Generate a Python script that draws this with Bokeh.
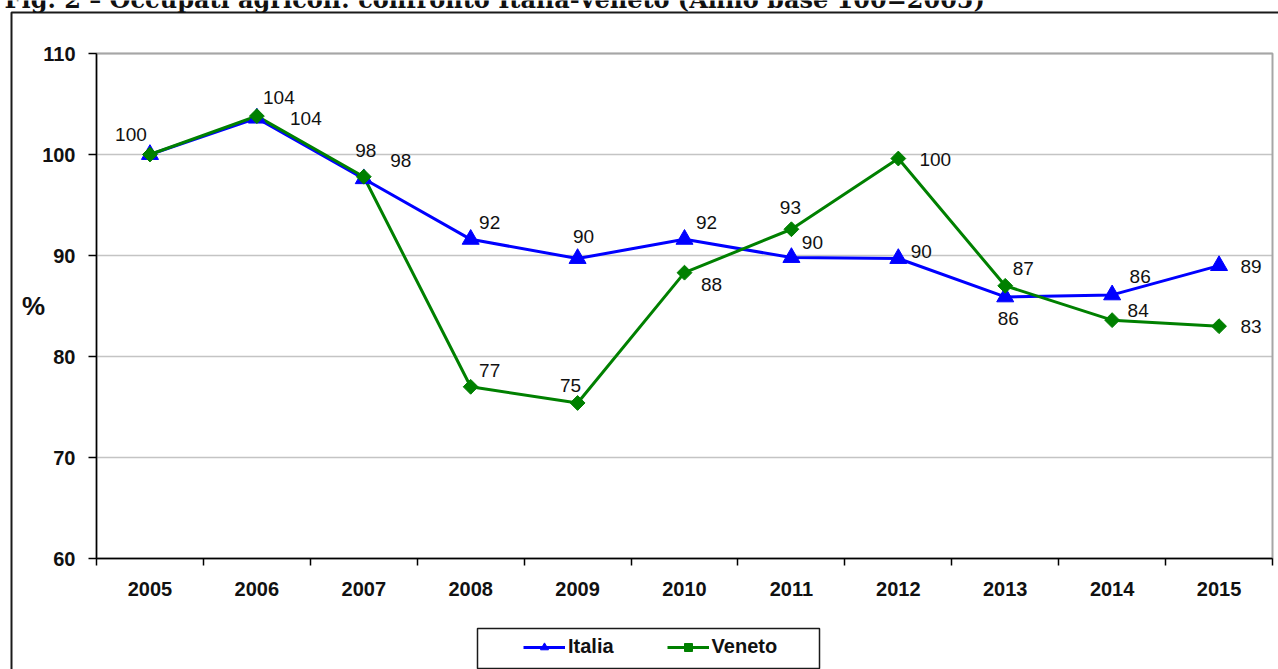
from bokeh.plotting import figure
from bokeh.models import (ColumnDataSource, FixedTicker, Legend, LegendItem,
                          Range1d, Label, BoxAnnotation)
from bokeh.embed import file_html
from bokeh.resources import INLINE
from bokeh.core.properties import value

# --- data -------------------------------------------------------------
years = ["2005", "2006", "2007", "2008", "2009", "2010",
         "2011", "2012", "2013", "2014", "2015"]
italia = [100.0, 103.6, 97.6, 91.6, 89.7, 91.6, 89.8, 89.7, 85.9, 86.1, 89.0]
veneto = [100.0, 103.8, 97.8, 77.0, 75.4, 88.3, 92.6, 99.6, 87.0, 83.6, 83.0]
y_ticks = [60, 70, 80, 90, 100, 110]
title_text = "Fig. 2 \u2013 Occupati agricoli: confronto Italia-Veneto (Anno base 100=2005)"

# --- label placement (pixel offsets from each point) -------------------
italia_dx = [-19, 22, 37, 19, 6, 22, 21, 23, 3, 28, 32]
italia_dy = [-20, -21, -18, -17, -22, -17, -15, -7, 22, -18, 1]
veneto_dx = [0, 49, 2, 19, -7, 27, -1, 37, 18, 26, 32]
veneto_dy = [0, 2, -26, -16, -17, 12, -22, 1, -17, -10, 0]
veneto_show = [False] + [True] * 10   # 2005 shares the Italia label

# --- page geometry (pixels) -------------------------------------------
W, H = 1278, 669
PLOT_L, PLOT_R, PLOT_T, PLOT_B = 96, 1272, 53, 558

SANS = "Liberation Sans"
INK = "#111111"
xpos = list(range(len(years)))
x_lo, x_hi = -0.5, len(years) - 0.5
y_lo, y_hi = y_ticks[0], y_ticks[-1]

# the drawing frame covers the whole page; the plot area sits inside it
kx = (PLOT_R - PLOT_L) / (x_hi - x_lo)
ky = (PLOT_B - PLOT_T) / (y_hi - y_lo)
x_range = Range1d(x_lo - PLOT_L / kx, x_hi + (W - PLOT_R) / kx)
y_range = Range1d(y_lo - (H - PLOT_B) / ky, y_hi + PLOT_T / ky)

p = figure(width=W, height=H, x_range=x_range, y_range=y_range,
           output_backend="svg", toolbar_location=None, min_border=0)
p.title.visible = False
p.outline_line_color = None
p.background_fill_color = "white"
p.border_fill_color = "white"
p.xgrid.visible = False
p.ygrid.visible = False

# plot area: gray border and horizontal gridlines
p.add_layout(BoxAnnotation(left=x_lo, right=x_hi, bottom=y_lo, top=y_hi,
                           fill_alpha=0, line_color="#a6a6a6", line_alpha=1,
                           line_width=2, level="underlay"))
p.segment(x0=x_lo, x1=x_hi, y0=y_ticks, y1=y_ticks,
          line_color="#c4c4c4", line_width=1.5, level="underlay")

# y axis
p.yaxis.fixed_location = x_lo
p.yaxis.bounds = (y_lo, y_hi)
p.yaxis.ticker = FixedTicker(ticks=y_ticks)
p.yaxis.axis_line_color = "black"
p.yaxis.axis_line_width = 1.5
p.yaxis.major_tick_line_color = "black"
p.yaxis.major_tick_line_width = 1.5
p.yaxis.major_tick_out = 8
p.yaxis.major_tick_in = 0
p.yaxis.minor_tick_line_color = None
p.yaxis.major_label_standoff = 13
p.yaxis.major_label_text_font = SANS
p.yaxis.major_label_text_font_style = "bold"
p.yaxis.major_label_text_font_size = "20px"
p.yaxis.major_label_text_color = INK
p.yaxis.axis_label = "%"
p.yaxis.axis_label_orientation = "horizontal"
p.yaxis.axis_label_text_font = SANS
p.yaxis.axis_label_text_font_style = "bold"
p.yaxis.axis_label_text_font_size = "26px"
p.yaxis.axis_label_text_color = INK
p.yaxis.axis_label_standoff = -6

# x axis: year labels centred, tick marks between categories
p.xaxis.fixed_location = y_lo
p.xaxis.bounds = (x_lo, x_hi)
p.xaxis.ticker = FixedTicker(ticks=xpos,
                             minor_ticks=[i - 0.5 for i in range(len(years) + 1)])
p.xaxis.major_label_overrides = {i: y for i, y in zip(xpos, years)}
p.xaxis.axis_line_color = "black"
p.xaxis.axis_line_width = 1.5
p.xaxis.major_tick_line_color = None
p.xaxis.major_tick_out = 0
p.xaxis.major_tick_in = 0
p.xaxis.minor_tick_line_color = "black"
p.xaxis.minor_tick_line_width = 1.5
p.xaxis.minor_tick_out = 7
p.xaxis.minor_tick_in = 0
p.xaxis.major_label_standoff = 16
p.xaxis.major_label_text_font = SANS
p.xaxis.major_label_text_font_style = "bold"
p.xaxis.major_label_text_font_size = "20px"
p.xaxis.major_label_text_color = INK

# series
src_it = ColumnDataSource(dict(
    x=xpos, y=italia, txt=[f"{v:.0f}" for v in italia],
    dx=italia_dx, dy=italia_dy))
ve_idx = [i for i, s in enumerate(veneto_show) if s]
src_ve = ColumnDataSource(dict(x=xpos, y=veneto))
src_ve_lab = ColumnDataSource(dict(
    x=[xpos[i] for i in ve_idx], y=[veneto[i] for i in ve_idx],
    txt=[f"{veneto[i]:.0f}" for i in ve_idx],
    dx=[veneto_dx[i] for i in ve_idx], dy=[veneto_dy[i] for i in ve_idx]))

it_line = p.line("x", "y", source=src_it, line_color="#0000ff", line_width=3)
ve_line = p.line("x", "y", source=src_ve, line_color="#008000", line_width=3)
it_pts = p.scatter("x", "y", source=src_it, marker="triangle", size=17,
                   fill_color="#0000ff", line_color="#0000ff")
ve_pts = p.scatter("x", "y", source=src_ve, marker="square", size=10.5,
                   angle=0.785398, fill_color="#008000", line_color="#008000")

for src in (src_it, src_ve_lab):
    p.text("x", "y", text="txt", source=src, x_offset="dx", y_offset="dy",
           text_font=value(SANS), text_font_size="19px", text_color=INK,
           text_align="center", text_baseline="middle")

# legend under the x axis, inside its own frame
p.add_layout(BoxAnnotation(left=477, right=819, top=H - 628, bottom=H - 668,
                           left_units="screen", right_units="screen",
                           top_units="screen", bottom_units="screen",
                           fill_alpha=0, line_color="#1a1a1a", line_alpha=1,
                           line_width=1.5))
legend = Legend(items=[LegendItem(label="Italia", renderers=[it_line, it_pts]),
                       LegendItem(label="Veneto", renderers=[ve_line, ve_pts])],
                location=(523, H - 658), orientation="horizontal",
                margin=0, padding=0, spacing=53, glyph_width=42,
                glyph_height=20, label_height=20, label_standoff=3,
                label_text_font=SANS, label_text_font_style="bold",
                label_text_font_size="20px", label_text_color=INK,
                border_line_color=None, background_fill_alpha=0)
p.add_layout(legend)

# outer chart border
p.add_layout(BoxAnnotation(left=11, right=W + 50, top=H - 12, bottom=-50,
                           left_units="screen", right_units="screen",
                           top_units="screen", bottom_units="screen",
                           fill_alpha=0, line_color="#1a1a1a", line_alpha=1,
                           line_width=2))

# figure caption above the chart border
p.add_layout(Label(x=4, y=H + 1, x_units="screen", y_units="screen",
                   text=title_text, text_font="DejaVu Serif",
                   text_font_style="bold", text_font_size="24px",
                   text_color=INK, text_baseline="alphabetic"))

open("out.html", "w").write(file_html(p, INLINE))
